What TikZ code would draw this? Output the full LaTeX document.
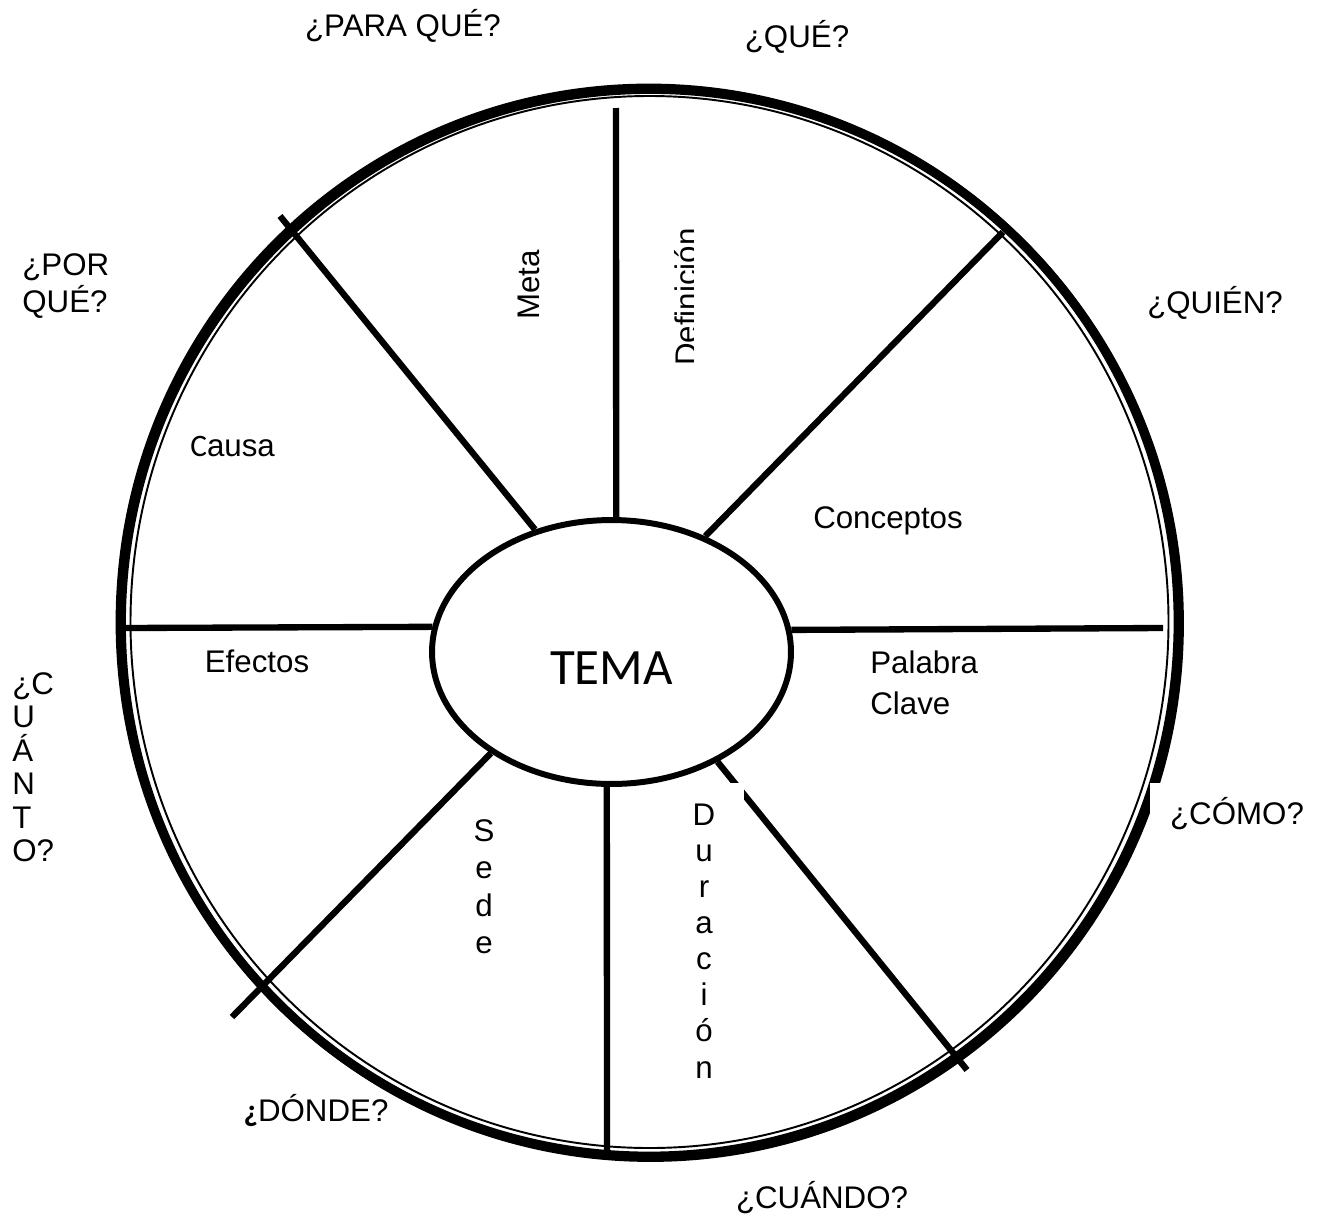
\documentclass[tikz,border=0pt]{standalone}
\usepackage{fontspec}
\setmainfont{Liberation Sans}
\newfontfamily\calibri{Carlito}
\usetikzlibrary{shapes.geometric}
\tikzset{
  rim/.style={line width=5pt},
  innerrim/.style={line width=1.1pt},
  spoke/.style={line width=3.6pt},
  lbl/.style={inner sep=0pt,font=\fontsize{17.8}{21}\selectfont},
}
\begin{document}
\begin{tikzpicture}[x=0.02cm,y=-0.02cm]
\useasboundingbox (0,0) rectangle (1327,1220);
% rueda
\draw[rim] (649,622) ellipse [x radius=529, y radius=534];
\draw[rim] (650.5,623.5) ellipse [x radius=529, y radius=534];
\draw[innerrim] (649.5,622) ellipse [x radius=519, y radius=526];
\node[ellipse,draw,line width=3.4pt,fill=white,inner sep=0pt,minimum width=7.18cm,minimum height=5.28cm,text height=1.3cm,text depth=0pt,font=\calibri\fontsize{29}{34}\selectfont] (tema) at (611.5,652) {TEMA};
% rayos
\coordinate (n) at (616,108);
\coordinate (nw) at (280,216);
\coordinate (ne) at (1003,232);
\coordinate (w) at (122,628);
\coordinate (e) at (1163,628);
\coordinate (sw) at (232,1017);
\coordinate (s) at (607,1152);
\coordinate (se) at (967,1070);
\draw[spoke] (tema.88) -- (n);
\draw[spoke] (tema.122.7) -- (nw);
\draw[spoke] (tema.51.5) -- (ne);
\draw[spoke] (tema.172.4) -- (w);
\draw[spoke] (tema.7.6) -- (e);
\draw[spoke] (tema.220.2) -- (sw);
\draw[spoke] (tema.268.5) -- (s);
\draw[spoke] (tema.314.1) -- (se);
\fill[white] (665,783) rectangle (744,1095);
\fill[white] (1150,783) rectangle (1312,845);
% preguntas
\node[lbl,anchor=base] (paraque) at (403,37) {¿PARA QUÉ?};
\node[lbl,anchor=base] (que) at (797,48) {¿QUÉ?};
\node[lbl,anchor=north west,align=left] (porque) at (22,253) {¿POR\\QUÉ?};
\node[lbl,anchor=base] (quien) at (1215,313) {¿QUIÉN?};
\node[lbl,anchor=base] (como) at (1237,824) {¿CÓMO?};
\node[lbl,anchor=base] (cuando) at (822,1208) {¿CUÁNDO?};
\node[lbl,anchor=base] (donde) at (316,1121) {{\calibri\bfseries ¿}DÓNDE?};
\node[lbl,anchor=north west,align=left,font=\fontsize{17.8}{19.1}\selectfont] (cuanto) at (12,672) {¿C\\U\\Á\\N\\T\\O?};
% sectores
\node[lbl,rotate=90,anchor=south] (meta) at (540,285) {Meta};
\begin{scope}
\clip (640,200) rectangle (693,400);
\node[lbl,rotate=90,anchor=south] (definicion) at (698,297) {Definición};
\end{scope}
\node[lbl,anchor=base] (conceptos) at (888,528) {Conceptos};
\node[lbl,anchor=north west,align=left,font=\fontsize{17.8}{23.8}\selectfont] (palabra) at (870,650) {Palabra\\Clave};
\node[lbl,anchor=base west] (causa) at (190,456) {{\calibri C}ausa};
\node[lbl,anchor=base] (efectos) at (257,672) {Efectos};
\node[lbl,anchor=north,align=center,font=\fontsize{17.8}{21.3}\selectfont] (sede) at (484,819) {S\\e\\d\\e};
\node[lbl,anchor=north,align=center,font=\fontsize{17.8}{20.5}\selectfont] (duracion) at (704,804) {D\\u\\r\\a\\c\\i\\ó\\n};
\end{tikzpicture}
\end{document}
